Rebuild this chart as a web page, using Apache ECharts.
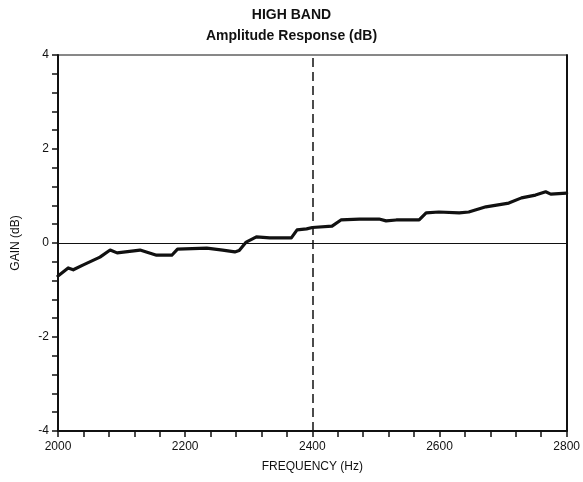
<!DOCTYPE html>
<html>
<head>
<meta charset="utf-8">
<script src="https://cdn.jsdelivr.net/npm/echarts@6/dist/echarts.min.js"></script>
<style>
  html, body { margin: 0; padding: 0; background: #fff; }
  #chart { width: 583px; height: 482px; }
</style>
</head>
<body>
<div id="chart"></div>
<script>
// Frequency points (Hz) and measured gain (dB) of the high band
const frequencyHz = [
  2000, 2016, 2024, 2039, 2066, 2082, 2093, 2129, 2155, 2179, 2188,
  2234, 2259, 2278, 2285, 2296, 2312, 2333, 2367, 2369, 2376, 2391,
  2400, 2431, 2445, 2474, 2505, 2516, 2532, 2568, 2579, 2599, 2631,
  2646, 2673, 2709, 2729, 2751, 2767, 2775, 2800
];
const gainDb = [
  -0.70, -0.53, -0.57, -0.47, -0.30, -0.15, -0.21, -0.15, -0.26, -0.26, -0.13,
  -0.11, -0.15, -0.19, -0.16, 0.02, 0.13, 0.11, 0.11, 0.09, 0.28, 0.30,
  0.33, 0.36, 0.49, 0.51, 0.51, 0.47, 0.49, 0.49, 0.64, 0.66, 0.64,
  0.66, 0.77, 0.85, 0.96, 1.02, 1.09, 1.04, 1.06
];
const xTickLabels = [2000, 2200, 2400, 2600, 2800];
const yTickLabels = [-4, -2, 0, 2, 4];
const markerFrequency = 2400;

const FONT = '"Liberation Sans", Arial, Helvetica, sans-serif';
const INK = '#111';

function near(v, list) {
  return list.some(t => Math.abs(v - t) < 1e-6);
}

const chart = echarts.init(document.getElementById('chart'), null, { renderer: 'canvas' });

chart.setOption({
  animation: false,
  backgroundColor: '#fff',
  title: [
    { text: 'HIGH BAND', left: 'center', top: 3,
      textStyle: { fontFamily: FONT, fontSize: 14, fontWeight: 'bold', color: INK } },
    { text: 'Amplitude Response (dB)', left: 'center', top: 24,
      textStyle: { fontFamily: FONT, fontSize: 14, fontWeight: 'bold', color: INK } }
  ],
  grid: {
    left: 58, right: 15, top: 55, bottom: 51,
    show: true, borderColor: INK, borderWidth: 1, backgroundColor: 'transparent'
  },
  xAxis: [{
    type: 'value', min: 2000, max: 2800, interval: 40,
    name: 'FREQUENCY (Hz)', nameLocation: 'middle', nameGap: 30,
    nameTextStyle: { fontFamily: FONT, fontSize: 12, color: INK },
    axisLine: { show: true, onZero: false, lineStyle: { color: INK, width: 2 } },
    axisTick: { show: true, inside: false, length: 6, lineStyle: { color: INK, width: 1.5 } },
    axisLabel: {
      fontFamily: FONT, fontSize: 12, color: INK, margin: 10,
      formatter: v => near(v, xTickLabels) ? String(Math.round(v)) : ''
    },
    splitLine: { show: false }
  }],
  yAxis: [{
    type: 'value', min: -4, max: 4, interval: 0.4,
    name: 'GAIN (dB)', nameLocation: 'middle', nameGap: 36, nameRotate: 90,
    nameTextStyle: { fontFamily: FONT, fontSize: 12, color: INK },
    axisLine: { show: true, onZero: false, lineStyle: { color: INK, width: 2 } },
    axisTick: { show: true, inside: false, length: 6, lineStyle: { color: INK, width: 1.5 } },
    axisLabel: {
      fontFamily: FONT, fontSize: 12, color: INK, margin: 9,
      formatter: v => near(v, yTickLabels) ? String(Math.round(v)) : ''
    },
    splitLine: { show: false }
  }, {
    // right-hand frame edge
    type: 'value', min: -4, max: 4, position: 'right',
    axisLine: { show: true, onZero: false, lineStyle: { color: INK, width: 2 } },
    axisTick: { show: false }, axisLabel: { show: false }, splitLine: { show: false }
  }],
  series: [{
    type: 'line',
    data: frequencyHz.map((f, i) => [f, gainDb[i]]),
    showSymbol: false,
    smooth: false,
    lineStyle: { color: INK, width: 3.2, join: 'round', cap: 'round' },
    z: 5,
    markLine: {
      silent: true, symbol: 'none', animation: false,
      label: { show: false },
      data: [
        { yAxis: 0, lineStyle: { color: INK, width: 1, type: 'solid' } },
        { xAxis: markerFrequency, lineStyle: { color: INK, width: 1.5, type: [9, 5] } }
      ]
    }
  }]
});
</script>
</body>
</html>
